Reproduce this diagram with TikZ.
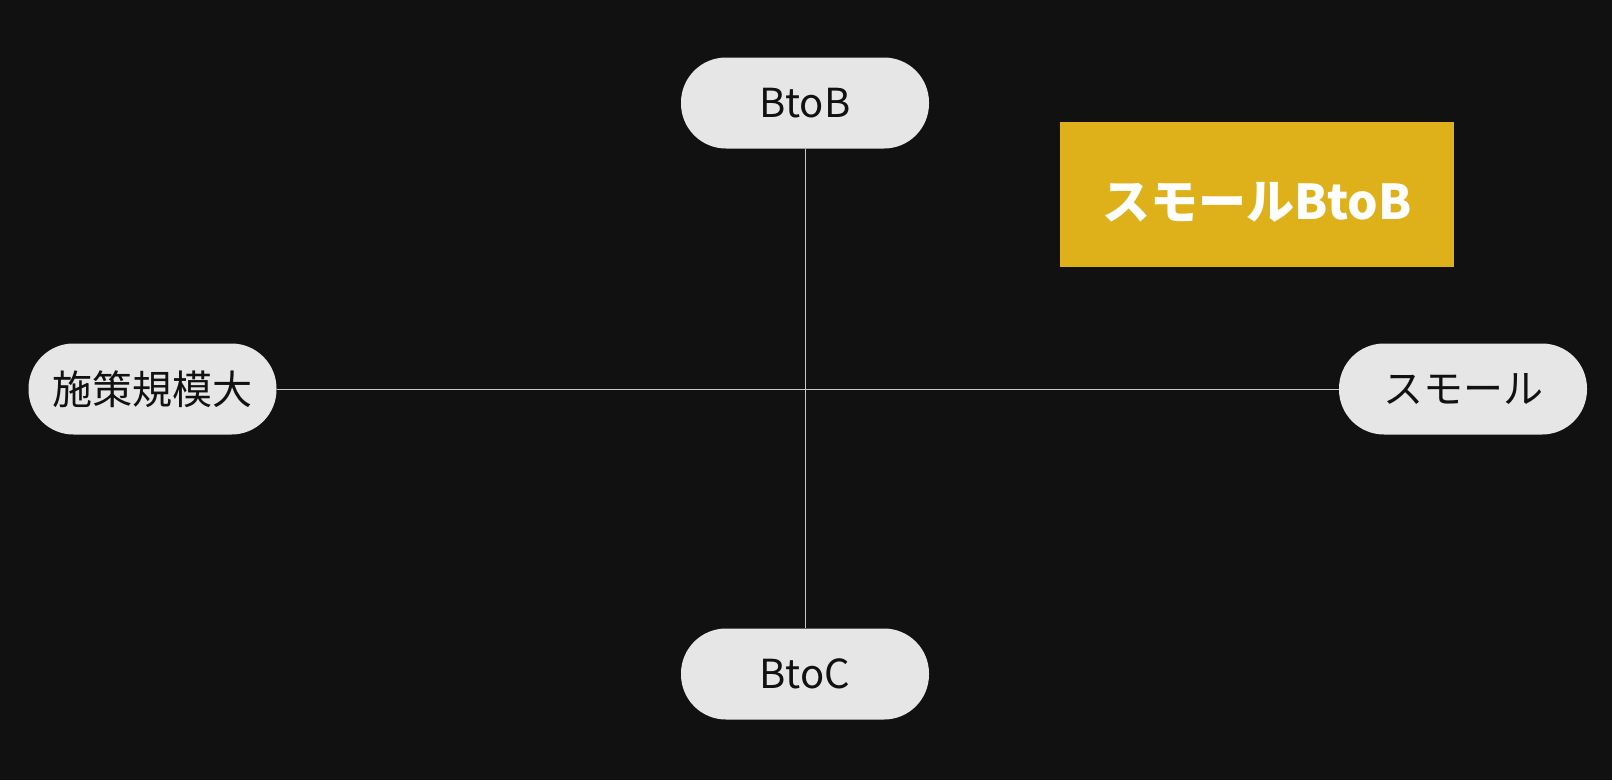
\documentclass[tikz,border=0pt]{standalone}
\usepackage{fontspec}
\setmainfont{Noto Sans CJK JP}
\usepackage{tikz}
\usetikzlibrary{positioning}

\definecolor{bgcol}{HTML}{111111}
\definecolor{pillcol}{HTML}{E6E6E6}
\definecolor{axiscol}{HTML}{C8C8C8}
\definecolor{accent}{HTML}{DEB01A}

\tikzset{
    pill/.style={draw=none, fill=pillcol, rectangle, rounded corners=45pt,
        minimum width=248pt, minimum height=91pt, inner sep=0pt,
        text=bgcol, font=\fontsize{40}{48}\selectfont},
    axis/.style={axiscol, line width=1pt},
    highlight/.style={fill=accent, rectangle, minimum width=394pt,
        minimum height=145pt, inner sep=0pt, text=white,
        text height=49.6pt, text depth=0pt,
        font=\bfseries\fontsize{48}{56}\selectfont}
}

\begin{document}
\begin{tikzpicture}[x=1pt, y=-1pt]
    % Background
    \fill[bgcol] (0,0) rectangle (1612,780);
    \useasboundingbox (0,0) rectangle (1612,780);

    % Quadrant labels
    \node[pill] (btob) at (805,103) {BtoB};
    \node[pill] (btoc) at (805,674) {BtoC};
    \node[pill] (large) at (152.5,389) {施策規模大};
    \node[pill] (small) at (1463,389) {スモール};

    % Axes
    \draw[axis] (btob) -- (btoc);
    \draw[axis] (large) -- (small);

    % Highlight
    \node[highlight] (smallbtob) at (1257,194.5) {スモールBtoB};
\end{tikzpicture}
\end{document}
